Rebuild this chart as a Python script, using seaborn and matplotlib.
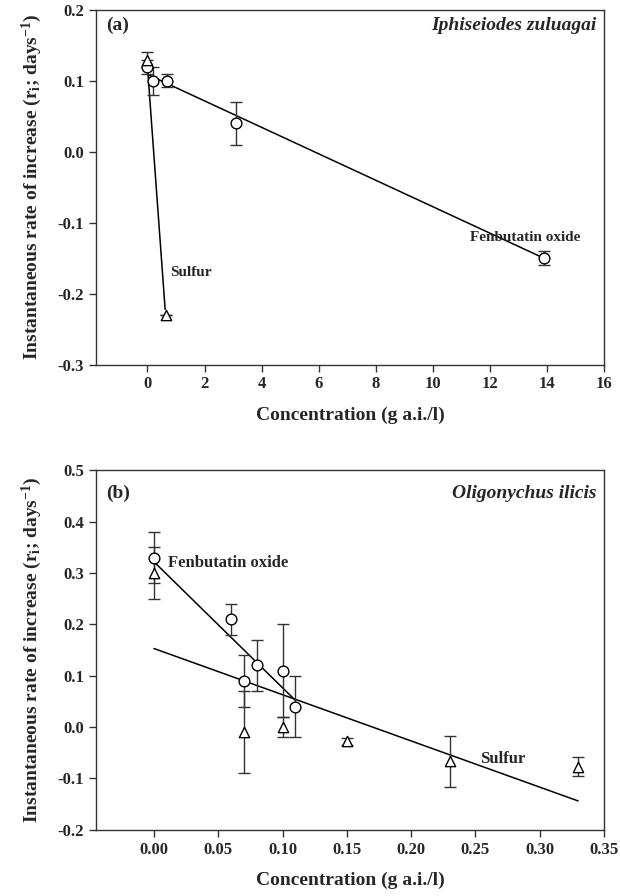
import matplotlib
matplotlib.use("Agg")
import matplotlib.pyplot as plt
import seaborn as sns

# ---- panel (a): Iphiseiodes zuluagai ----
a_fen_x = [0.0, 0.18, 0.7, 3.1, 13.9]
a_fen_y = [0.12, 0.10, 0.10, 0.04, -0.15]
a_fen_err = [0.01, 0.02, 0.009, 0.03, 0.01]
a_sul_x = [0.0, 0.645]
a_sul_y = [0.13, -0.23]
a_sul_err = [0.01, 0.0]
a_fen_fit_x = [0.0, 13.9]
a_fen_fit_y = [0.109, -0.150]
a_sul_fit_x = [0.0, 0.62]
a_sul_fit_y = [0.12, -0.222]

# ---- panel (b): Oligonychus ilicis ----
b_fen_x = [0.0, 0.06, 0.07, 0.08, 0.10, 0.11]
b_fen_y = [0.33, 0.21, 0.09, 0.12, 0.11, 0.04]
b_fen_err = [0.05, 0.03, 0.05, 0.05, 0.09, 0.06]
b_sul_x = [0.0, 0.07, 0.10, 0.15, 0.23, 0.33]
b_sul_y = [0.30, -0.01, 0.00, -0.028, -0.067, -0.077]
b_sul_err = [0.05, 0.08, 0.02, 0.007, 0.05, 0.019]
b_fen_fit_x = [0.0, 0.11]
b_fen_fit_y = [0.322, 0.052]
b_sul_fit_x = [0.0, 0.33]
b_sul_fit_y = [0.153, -0.144]

sns.set_theme(style="ticks")
plt.rcParams["font.family"] = ["Liberation Serif", "DejaVu Serif"]
plt.rcParams["font.weight"] = "bold"
plt.rcParams["mathtext.fontset"] = "custom"
plt.rcParams["mathtext.rm"] = "Liberation Serif:bold"
plt.rcParams["mathtext.bf"] = "Liberation Serif:bold"
plt.rcParams["mathtext.default"] = "bf"

fig = plt.figure(figsize=(6.2, 8.96), dpi=100)
ax_a = fig.add_axes([0.155, 0.593, 0.819, 0.396])
ax_b = fig.add_axes([0.155, 0.074, 0.819, 0.401])

ylab = "Instantaneous rate of increase (r$_{i}$; days$^{-1}$)"
xlab = "Concentration (g a.i./l)"


def draw(ax, fx, fy, fe, sx, sy, se, ffx, ffy, sfx, sfy):
    sns.lineplot(x=ffx, y=ffy, ax=ax, color="black", lw=1.1, zorder=2)
    sns.lineplot(x=sfx, y=sfy, ax=ax, color="black", lw=1.1, zorder=2)
    ax.errorbar(fx, fy, yerr=fe, fmt="none", ecolor="#333333", elinewidth=1,
                capsize=4, capthick=1, zorder=3)
    ax.errorbar(sx, sy, yerr=se, fmt="none", ecolor="#333333", elinewidth=1,
                capsize=4, capthick=1, zorder=3)
    sns.scatterplot(x=fx, y=fy, ax=ax, marker="o", s=60, facecolor="white",
                    edgecolor="black", linewidth=1, zorder=4)
    sns.scatterplot(x=sx, y=sy, ax=ax, marker="^", s=55, facecolor="white",
                    edgecolor="black", linewidth=1, zorder=4)
    for s in ax.spines.values():
        s.set_linewidth(1)
        s.set_color("#333333")
    ax.tick_params(direction="out", length=5, width=1, labelsize=12,
                   color="#333333", top=False, right=False)
    ax.set_xlabel(xlab, fontsize=14, fontweight="bold", labelpad=10)
    ax.set_ylabel(ylab, fontsize=14, fontweight="bold", labelpad=10)


draw(ax_a, a_fen_x, a_fen_y, a_fen_err, a_sul_x, a_sul_y, a_sul_err,
     a_fen_fit_x, a_fen_fit_y, a_sul_fit_x, a_sul_fit_y)
ax_a.set_xlim(-1.8, 16)
ax_a.set_ylim(-0.3, 0.2)
ax_a.set_xticks([0, 2, 4, 6, 8, 10, 12, 14, 16])
ax_a.set_yticks([-0.3, -0.2, -0.1, 0.0, 0.1, 0.2])
ax_a.set_yticklabels(["-0.3", "-0.2", "-0.1", "0.0", "0.1", "0.2"], fontweight="bold")
ax_a.set_xticklabels([str(v) for v in [0, 2, 4, 6, 8, 10, 12, 14, 16]], fontweight="bold")
ax_a.text(0.02, 0.955, "(a)", transform=ax_a.transAxes, fontsize=14,
          fontweight="bold", va="center")
ax_a.text(0.985, 0.955, "Iphiseiodes zuluagai", transform=ax_a.transAxes,
          fontsize=14, fontweight="bold", style="italic", ha="right", va="center")
ax_a.text(11.32, -0.121, "Fenbutatin oxide", fontsize=11, fontweight="bold", va="center")
ax_a.text(0.8, -0.170, "Sulfur", fontsize=11, fontweight="bold", va="center")

draw(ax_b, b_fen_x, b_fen_y, b_fen_err, b_sul_x, b_sul_y, b_sul_err,
     b_fen_fit_x, b_fen_fit_y, b_sul_fit_x, b_sul_fit_y)
ax_b.set_xlim(-0.045, 0.35)
ax_b.set_ylim(-0.2, 0.5)
bx = [0.0, 0.05, 0.10, 0.15, 0.20, 0.25, 0.30, 0.35]
by = [-0.2, -0.1, 0.0, 0.1, 0.2, 0.3, 0.4, 0.5]
ax_b.set_xticks(bx)
ax_b.set_xticklabels(["%.2f" % v for v in bx], fontweight="bold")
ax_b.set_yticks(by)
ax_b.set_yticklabels(["%.1f" % v for v in by], fontweight="bold")
ax_b.text(0.02, 0.935, "(b)", transform=ax_b.transAxes, fontsize=14,
          fontweight="bold", va="center")
ax_b.text(0.985, 0.935, "Oligonychus ilicis", transform=ax_b.transAxes,
          fontsize=14, fontweight="bold", style="italic", ha="right", va="center")
ax_b.text(0.011, 0.319, "Fenbutatin oxide", fontsize=12, fontweight="bold", va="center")
ax_b.text(0.254, -0.063, "Sulfur", fontsize=12, fontweight="bold", va="center")

fig.savefig("out.png", dpi=100)
